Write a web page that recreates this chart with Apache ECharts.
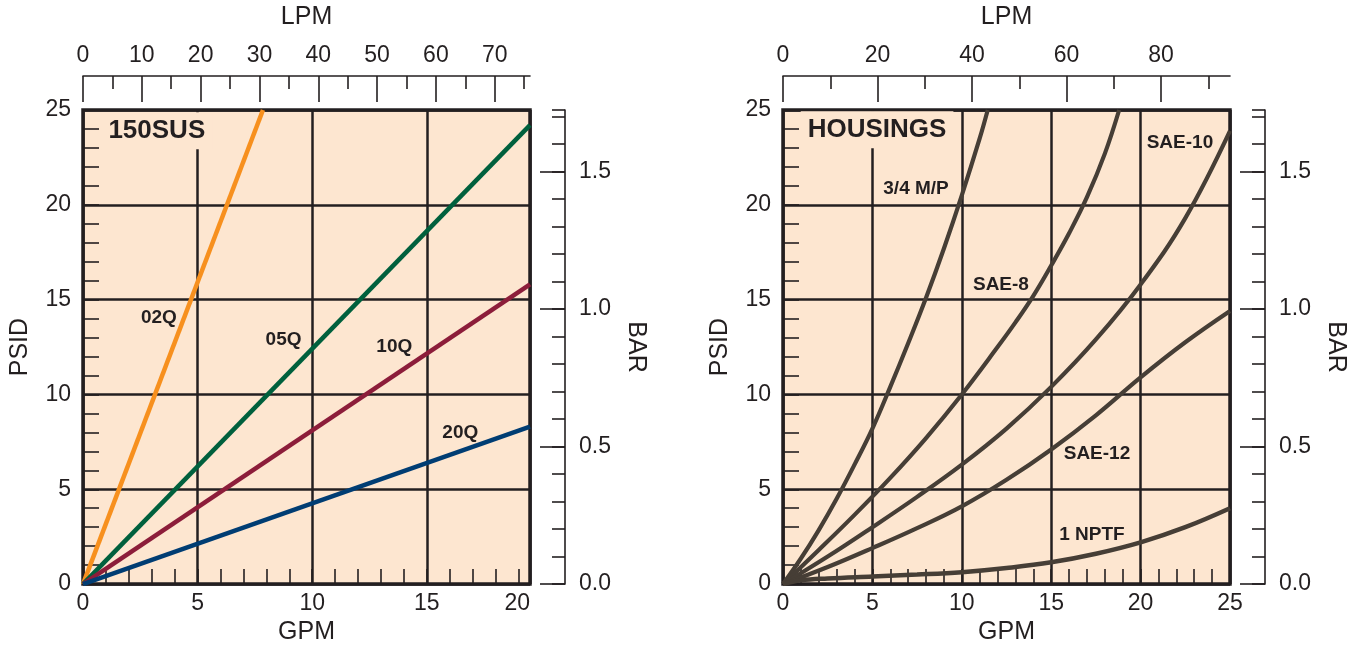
<!DOCTYPE html>
<html>
<head>
<meta charset="UTF-8">
<script src="https://cdn.jsdelivr.net/npm/echarts@6/dist/echarts.min.js"></script>
<style>
  html, body { margin: 0; padding: 0; width: 100%; height: 100%; background: #fff; }
  #main { width: 1361px; height: 650px; }
</style>
</head>
<body>
<div id="main"></div>
<script>
// --- data (x = GPM, y = PSID) ---

// left panel: 150SUS elements
const sus02Q = [[0, 0], [7.85, 25]];
const sus05Q = [[0, 0], [19.5, 24.2]];
const sus10Q = [[0, 0], [19.5, 15.8]];
const sus20Q = [[0, 0], [19.5, 8.3]];
const susLabels = [['02Q', 3.31, 14.06], ['05Q', 8.75, 12.86], ['10Q', 13.58, 12.5], ['20Q', 16.46, 7.97]];
const susTitle = ['150SUS', 3.22, 23.9];

// right panel: housings
const hsgMP = [[0, 0], [1, 1.35], [2, 2.85], [3, 4.5], [4, 6.3], [5, 8.2], [6, 10.4], [7, 12.7], [8, 15.1], [9, 17.7], [10, 20.5], [11, 23.5], [11.45, 25]];
const hsgSAE8 = [[0, 0], [2, 1.8], [4, 3.65], [6, 5.6], [8, 7.7], [10, 10], [12, 12.5], [13, 13.8], [14, 15.2], [15, 16.8], [16, 18.5], [17, 20.4], [18, 22.7], [18.8, 25]];
const hsgSAE10 = [[0, 0], [2.5, 1.45], [5, 3.0], [7.5, 4.6], [10, 6.3], [12.5, 8.2], [15, 10.4], [17.5, 12.9], [20, 15.8], [22.5, 19.3], [25, 23.9]];
const hsgSAE12 = [[0, 0], [2.5, 0.9], [5, 1.9], [7.5, 2.95], [10, 4.1], [12.5, 5.5], [15, 7.1], [17.5, 8.9], [20, 10.9], [22.5, 12.75], [25, 14.4]];
const hsgNPTF = [[0, 0], [1, 0.2], [2.5, 0.3], [5, 0.4], [7.5, 0.5], [10, 0.63], [12.5, 0.85], [15, 1.15], [17.5, 1.6], [20, 2.2], [22.5, 3.0], [25, 4.0]];
const hsgLabels = [['3/4 M/P', 7.44, 20.83], ['SAE-8', 12.19, 15.78], ['SAE-10', 22.2, 23.28], ['SAE-12', 17.56, 6.875], ['1 NPTF', 17.28, 2.6]];
const hsgTitle = ['HOUSINGS', 5.26, 23.96];

// tick labels
const lpmLeftMajor = [0, 10, 20, 30, 40, 50, 60, 70];
const lpmLeftMinor = [5, 15, 25, 35, 45, 55, 65, 75];
const lpmRightMajor = [0, 20, 40, 60, 80];
const lpmRightMinor = [10, 30, 50, 70, 90];
const barMajor = [0, 0.5, 1.0, 1.5];

const PSI_PER_BAR = 14.5038;
const INK = '#231f20';
const PEACH = '#fde6d0';

const grid = [], xAxis = [], yAxis = [], series = [];
const tickLine = { color: INK, width: 1.6 };
const txt = { fontSize: 23, color: INK };
const nameTxt = { fontSize: 25, color: INK };

function addPanel(cfg) {
  const gi = grid.length;
  const xi = xAxis.length, yi = yAxis.length;
  grid.push({ left: cfg.left, top: 110, width: 447, height: 480, show: true,
    backgroundColor: PEACH, borderColor: INK, borderWidth: 3.5 });
  const base = { gridIndex: gi, type: 'value', min: 0,
    axisLine: { show: false, onZero: false }, axisTick: { show: false }, axisLabel: { show: false }, splitLine: { show: false } };
  const line = { show: true, onZero: false, lineStyle: tickLine };

  // bottom GPM: small ticks every 1, grid + labels every 5
  xAxis.push({ ...base, position: 'bottom', max: cfg.gpmMax, interval: 1,
    axisTick: { show: true, inside: true, length: 15, lineStyle: tickLine } });
  xAxis.push({ ...base, position: 'bottom', max: cfg.gpmMax, interval: 5,
    splitLine: { show: true, lineStyle: { color: INK, width: 2.5 } },
    axisLabel: { show: true, margin: 8, ...txt, alignMaxLabel: cfg.alignMax,
      formatter: v => (v >= cfg.gpmMax ? cfg.gpmEnd : v) },
    name: 'GPM', nameLocation: 'middle', nameGap: 31, nameTextStyle: nameTxt });
  // top LPM: long + short ticks
  xAxis.push({ ...base, position: 'top', offset: 34, max: cfg.lpmMax,
    axisTick: { show: true, inside: true, length: 26, customValues: cfg.lpmMajor, lineStyle: tickLine } });
  xAxis.push({ ...base, position: 'top', offset: 34, max: cfg.lpmMax, axisLine: line,
    axisTick: { show: true, inside: true, length: 13, customValues: cfg.lpmMinor, lineStyle: tickLine },
    axisLabel: { show: true, customValues: cfg.lpmMajor, margin: 9, ...txt },
    name: 'LPM', nameLocation: 'middle', nameGap: 46, nameTextStyle: nameTxt });

  // left PSID
  yAxis.push({ ...base, position: 'left', max: 25, interval: 1,
    axisTick: { show: true, inside: true, length: 16, lineStyle: tickLine } });
  yAxis.push({ ...base, position: 'left', max: 25, interval: 5,
    splitLine: { show: true, lineStyle: { color: INK, width: 2.5 } },
    axisLabel: { show: true, margin: 12, ...txt },
    name: 'PSID', nameLocation: 'middle', nameGap: 50, nameRotate: 90, nameTextStyle: nameTxt });
  // right BAR
  yAxis.push({ ...base, position: 'right', offset: 35, max: 25 / PSI_PER_BAR, interval: 0.1, axisLine: line,
    axisTick: { show: true, inside: true, length: 13, lineStyle: tickLine } });
  yAxis.push({ ...base, position: 'right', offset: 35, max: 25 / PSI_PER_BAR,
    axisTick: { show: true, inside: true, length: 25, customValues: barMajor, lineStyle: tickLine },
    axisLabel: { show: true, customValues: barMajor, margin: 14, ...txt, formatter: v => v.toFixed(1) },
    name: 'BAR', nameLocation: 'middle', nameGap: 58, nameRotate: -90, nameTextStyle: nameTxt });

  cfg.lines.forEach(([data, color, width]) => {
    series.push({ type: 'line', xAxisIndex: xi + 1, yAxisIndex: yi + 1, data, showSymbol: false,
      smooth: cfg.smooth, lineStyle: { color, width }, clip: true, silent: true, z: 3 });
  });

  const items = cfg.labels.map(l => ({ value: [l[1], l[2]], name: l[0] }));
  items.push({ value: [cfg.title[1], cfg.title[2]], name: cfg.title[0],
    label: { fontSize: 26, backgroundColor: PEACH, padding: [5, 7, 6, 7] } });
  series.push({ type: 'scatter', xAxisIndex: xi + 1, yAxisIndex: yi + 1, symbolSize: 1, silent: true, z: 5,
    itemStyle: { color: 'transparent' }, data: items,
    label: { show: true, position: 'inside', formatter: '{b}', fontWeight: 'bold', fontSize: 19,
      color: INK, textBorderWidth: 0, opacity: 1 } });
}

addPanel({ left: 83, gpmMax: 19.5, gpmEnd: '20', alignMax: 'right', lpmMax: 76, lpmMajor: lpmLeftMajor, lpmMinor: lpmLeftMinor,
  smooth: false, title: susTitle, labels: susLabels,
  lines: [[sus02Q, '#f7901e', 4.5], [sus05Q, '#00603d', 4.5], [sus10Q, '#8c1d3a', 4.5], [sus20Q, '#003d73', 4.5]] });
addPanel({ left: 783, gpmMax: 25, gpmEnd: '25', alignMax: 'center', lpmMax: 94.6, lpmMajor: lpmRightMajor, lpmMinor: lpmRightMinor,
  smooth: 0.4, title: hsgTitle, labels: hsgLabels,
  lines: [[hsgMP, '#463e36', 4.2], [hsgSAE8, '#463e36', 4.2], [hsgSAE10, '#463e36', 4.2], [hsgSAE12, '#463e36', 4.2], [hsgNPTF, '#463e36', 4.5]] });

const chart = echarts.init(document.getElementById('main'));
chart.setOption({
  animation: false,
  textStyle: { fontFamily: 'Liberation Sans, Arial, Helvetica, sans-serif' },
  grid, xAxis, yAxis, series
});
</script>
</body>
</html>
